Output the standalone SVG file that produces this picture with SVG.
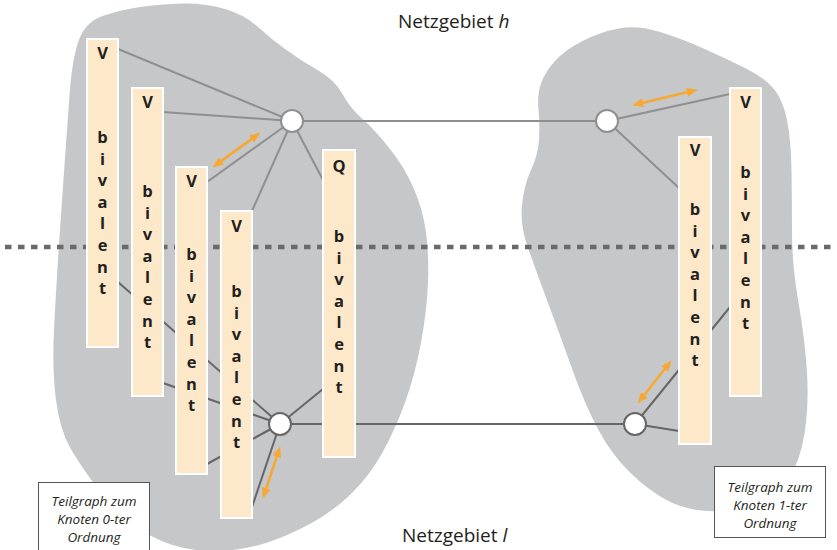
<svg xmlns="http://www.w3.org/2000/svg" width="837" height="550" viewBox="0 0 837 550">
<style>
.blob{fill:#c6c7c9;stroke:none}
.dash{stroke:#6a6a6a;stroke-width:4.5;stroke-dasharray:6.5 6.5;fill:none}
.ch{stroke:#8f8f8f;stroke-width:2;fill:none}
.cl{stroke:#666;stroke-width:2;fill:none}
.bar{fill:#fde9c9;stroke:#fff;stroke-width:2}
.bt{font-family:"Open Sans","Liberation Sans",sans-serif;font-weight:bold;font-size:16.5px;fill:#231f20;text-anchor:middle}
.nodeh{fill:#fff;stroke:#8f8f8f;stroke-width:2}
.nodel{fill:#fff;stroke:#666;stroke-width:2}
.arr{stroke:#f7a833;stroke-width:2.6;fill:none;marker-start:url(#ah);marker-end:url(#ah)}
.box{fill:#fff;stroke:#555;stroke-width:1}
.boxt{font-family:"Open Sans","Liberation Sans",sans-serif;font-style:italic;font-size:13.5px;fill:#231f20;text-anchor:middle}
.title{font-family:"Open Sans","Liberation Sans",sans-serif;font-size:19px;fill:#231f20}
</style>
<defs>
<marker id="ah" markerUnits="userSpaceOnUse" viewBox="0 0 10 8" markerWidth="11" markerHeight="8.8" refX="3" refY="4" orient="auto-start-reverse">
<path d="M0,0 L10,4 L0,8 z" fill="#f7a833"/>
</marker>
</defs>

<g id="areas">
<path id="area-left" class="blob" d="M 102.5,16 Q 120,10 140,7 Q 160,4 182.5,3.5 Q 205,3 225,9 Q 245,15 257.5,26.5 Q 270,38 285,49 Q 300,60 317.5,70 Q 335,80 342.5,94 Q 350,108 362.5,119 Q 375,130 390,149 Q 405,168 414,189 Q 423,210 426,232.5 Q 429,255 428,282.5 Q 427,310 421,342.5 Q 415,375 405,402.5 Q 395,430 382.5,452.5 Q 370,475 352.5,492.5 Q 335,510 312.5,522.5 Q 290,535 267.5,542.5 Q 245,550 220,551 Q 195,552 172.5,545 Q 150,538 130,521.5 Q 110,505 95,485 Q 80,465 70,447.5 Q 60,430 56,400 Q 52,370 54,330 Q 56,290 59,245 Q 62,200 64.5,165 Q 67,130 69.5,95 Q 72,60 78.5,41 Q 85,22 102.5,16 Z"/>
<path id="area-right" class="blob" d="M 658.5,31.5 Q 680,38 702.5,48 Q 725,58 745,68 Q 765,78 774,89 Q 783,100 787,120 Q 791,140 791.5,170 Q 792,200 792,232.5 Q 792,265 798.5,302.5 Q 805,340 807,372.5 Q 809,405 804.5,433.5 Q 800,462 787.5,481 Q 775,500 752.5,506 Q 730,512 707.5,511 Q 685,510 666.5,500 Q 648,490 630,472.5 Q 612,455 598.5,430 Q 585,405 572.5,370 Q 560,335 547.5,301.5 Q 535,268 527.5,246.5 Q 520,225 522,205 Q 524,185 531,170 Q 538,155 539,140 Q 540,125 538.5,110 Q 537,95 541,83.5 Q 545,72 555,61 Q 565,50 582.5,41 Q 600,32 618.5,28.5 Q 637,25 658.5,31.5 Z"/>
</g>

<line id="level-divider" class="dash" x1="5" y1="247" x2="837" y2="247"/>

<g id="connectors">
<line class="ch" x1="292" y1="121" x2="118" y2="49"/>
<line class="ch" x1="292" y1="121" x2="163" y2="112"/>
<line class="ch" x1="292" y1="121" x2="207" y2="182"/>
<line class="ch" x1="292" y1="121" x2="252" y2="211"/>
<line class="ch" x1="292" y1="121" x2="323" y2="180"/>
<line class="ch" x1="292" y1="121" x2="607" y2="121"/>
<line class="ch" x1="607" y1="121" x2="730" y2="94"/>
<line class="ch" x1="607" y1="121" x2="679" y2="188"/>
<line class="cl" x1="280" y1="424" x2="118" y2="282"/>
<line class="cl" x1="280" y1="424" x2="163" y2="383"/>
<line class="cl" x1="280" y1="424" x2="207" y2="464"/>
<line class="cl" x1="280" y1="424" x2="252" y2="507"/>
<line class="cl" x1="280" y1="424" x2="323" y2="389"/>
<line class="cl" x1="280" y1="424" x2="635" y2="424"/>
<line class="cl" x1="635" y1="424" x2="730" y2="307"/>
<line class="cl" x1="635" y1="424" x2="679" y2="431"/>
</g>

<g id="bar1">
<rect class="bar" x="87" y="39" width="31" height="308"/>
<text class="bt" x="102.5" y="59">V</text>
<text class="bt" x="102.5" y="143">b<tspan x="102.5" dy="21.6">i</tspan><tspan x="102.5" dy="21.6">v</tspan><tspan x="102.5" dy="21.6">a</tspan><tspan x="102.5" dy="21.6">l</tspan><tspan x="102.5" dy="21.6">e</tspan><tspan x="102.5" dy="21.6">n</tspan><tspan x="102.5" dy="21.6">t</tspan></text>
</g>
<g id="bar2">
<rect class="bar" x="132" y="88" width="31" height="308"/>
<text class="bt" x="147.5" y="108">V</text>
<text class="bt" x="147.5" y="197">b<tspan x="147.5" dy="21.6">i</tspan><tspan x="147.5" dy="21.6">v</tspan><tspan x="147.5" dy="21.6">a</tspan><tspan x="147.5" dy="21.6">l</tspan><tspan x="147.5" dy="21.6">e</tspan><tspan x="147.5" dy="21.6">n</tspan><tspan x="147.5" dy="21.6">t</tspan></text>
</g>
<g id="bar3">
<rect class="bar" x="176" y="167" width="31" height="307"/>
<text class="bt" x="191.5" y="187">V</text>
<text class="bt" x="191.5" y="260">b<tspan x="191.5" dy="21.6">i</tspan><tspan x="191.5" dy="21.6">v</tspan><tspan x="191.5" dy="21.6">a</tspan><tspan x="191.5" dy="21.6">l</tspan><tspan x="191.5" dy="21.6">e</tspan><tspan x="191.5" dy="21.6">n</tspan><tspan x="191.5" dy="21.6">t</tspan></text>
</g>
<g id="bar4">
<rect class="bar" x="221" y="211" width="31" height="307"/>
<text class="bt" x="236.5" y="232">V</text>
<text class="bt" x="236.5" y="297">b<tspan x="236.5" dy="21.6">i</tspan><tspan x="236.5" dy="21.6">v</tspan><tspan x="236.5" dy="21.6">a</tspan><tspan x="236.5" dy="21.6">l</tspan><tspan x="236.5" dy="21.6">e</tspan><tspan x="236.5" dy="21.6">n</tspan><tspan x="236.5" dy="21.6">t</tspan></text>
</g>
<g id="barQ">
<rect class="bar" x="323" y="150" width="32" height="307"/>
<text class="bt" x="339" y="172">Q</text>
<text class="bt" x="339" y="242">b<tspan x="339" dy="21.6">i</tspan><tspan x="339" dy="21.6">v</tspan><tspan x="339" dy="21.6">a</tspan><tspan x="339" dy="21.6">l</tspan><tspan x="339" dy="21.6">e</tspan><tspan x="339" dy="21.6">n</tspan><tspan x="339" dy="21.6">t</tspan></text>
</g>
<g id="bar5">
<rect class="bar" x="679" y="137" width="32" height="307"/>
<text class="bt" x="695" y="156">V</text>
<text class="bt" x="695" y="215">b<tspan x="695" dy="21.6">i</tspan><tspan x="695" dy="21.6">v</tspan><tspan x="695" dy="21.6">a</tspan><tspan x="695" dy="21.6">l</tspan><tspan x="695" dy="21.6">e</tspan><tspan x="695" dy="21.6">n</tspan><tspan x="695" dy="21.6">t</tspan></text>
</g>
<g id="bar6">
<rect class="bar" x="730" y="88" width="31" height="308"/>
<text class="bt" x="745.5" y="108">V</text>
<text class="bt" x="745.5" y="178">b<tspan x="745.5" dy="21.6">i</tspan><tspan x="745.5" dy="21.6">v</tspan><tspan x="745.5" dy="21.6">a</tspan><tspan x="745.5" dy="21.6">l</tspan><tspan x="745.5" dy="21.6">e</tspan><tspan x="745.5" dy="21.6">n</tspan><tspan x="745.5" dy="21.6">t</tspan></text>
</g>

<g id="node-h0"><circle class="nodeh" cx="292" cy="121" r="11"/></g>
<g id="node-h1"><circle class="nodeh" cx="607" cy="121" r="11"/></g>
<g id="node-l0"><circle class="nodel" cx="280" cy="424" r="11"/></g>
<g id="node-l1"><circle class="nodel" cx="635" cy="424" r="11"/></g>

<g id="flows">
<line class="arr" x1="218.7" y1="162.9" x2="254.3" y2="137.1"/>
<line class="arr" x1="265.2" y1="491.4" x2="277.8" y2="453.6"/>
<line class="arr" x1="639.8" y1="103.4" x2="690.2" y2="91.6"/>
<line class="arr" x1="642.3" y1="397.5" x2="666.7" y2="366.5"/>
</g>

<g id="note-left">
<rect class="box" x="38.5" y="482.5" width="111" height="70"/>
<text class="boxt" x="94" y="506">Teilgraph zum</text>
<text class="boxt" x="94" y="524">Knoten 0-ter</text>
<text class="boxt" x="94" y="542">Ordnung</text>
</g>
<g id="note-right">
<rect class="box" x="714.5" y="466.5" width="111" height="71"/>
<text class="boxt" x="770" y="492">Teilgraph zum</text>
<text class="boxt" x="770" y="510">Knoten 1-ter</text>
<text class="boxt" x="770" y="528">Ordnung</text>
</g>

<text id="title-h" class="title" x="398" y="28">Netzgebiet <tspan font-style="italic">h</tspan></text>
<text id="title-l" class="title" x="402" y="542">Netzgebiet <tspan font-style="italic">l</tspan></text>
</svg>
